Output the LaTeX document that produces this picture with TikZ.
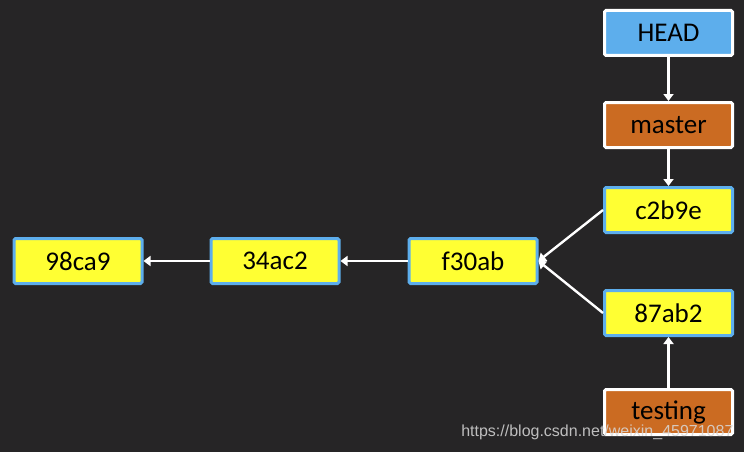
\documentclass[tikz,border=0pt]{standalone}
\usepackage{fontspec}
\setmainfont{Carlito}
\newfontfamily\wmfont{Liberation Sans}
\usetikzlibrary{arrows.meta}

\definecolor{bgdark}{HTML}{262526}
\definecolor{headblue}{HTML}{5DAEEC}
\definecolor{branchorange}{HTML}{CB6B22}
\definecolor{commityellow}{HTML}{FFFF33}

\begin{document}
\begin{tikzpicture}[x=1pt,y=-1pt,
  commit/.style={draw=headblue, fill=commityellow, line width=3pt, rounded corners=1.5pt,
    minimum width=128pt, minimum height=45pt, inner sep=0pt, font=\fontsize{27}{32}\selectfont},
  branch/.style={commit, draw=white, fill=branchorange},
  pointer/.style={commit, draw=white, fill=headblue},
  link/.style={draw=white, line width=2.4pt, -{Triangle[length=7pt,width=10pt]}}]
\fill[bgdark] (0,0) rectangle (744,452);
\useasboundingbox (0,0) rectangle (744,452);
\node[pointer] (head) at (668.5,33) {HEAD};
\node[branch] (master) at (668.5,125) {master};
\node[commit] (c2b9e) at (668.5,210) {c2b9e};
\node[commit] (87ab2) at (668.5,313) {87ab2};
\node[branch] (testing) at (668.5,412) {testing};
\node[commit] (f30ab) at (473,261) {f30ab};
\node[commit] (34ac2) at (275,261) {34ac2};
\node[commit] (98ca9) at (78,261) {98ca9};
\path[link] (head) -- (master);
\path[link] (master) -- (c2b9e);
\path[link] (testing) -- (87ab2);
\path[link] (c2b9e.west) -- (f30ab.east);
\path[link] (87ab2.west) -- (f30ab.east);
\path[link] (f30ab) -- (34ac2);
\path[link] (34ac2) -- (98ca9);
\node[text=white!70!gray, opacity=0.85, font=\wmfont\fontsize{16}{19}\selectfont, anchor=east] (mark) at (737,432) {https://blog.csdn.net/weixin\_45971087};
\end{tikzpicture}
\end{document}
